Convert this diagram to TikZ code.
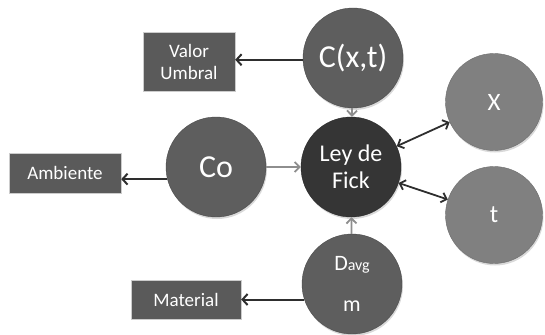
\documentclass[tikz,border=0pt]{standalone}
\usepackage{fontspec}
\setmainfont{Carlito}
\usetikzlibrary{arrows.meta,shadows}
\definecolor{midgray}{HTML}{5E5E5E}
\definecolor{darkgray}{HTML}{353535}
\definecolor{lightgray}{HTML}{808080}
\definecolor{boxgray}{HTML}{5A5A5A}
\definecolor{linkgray}{HTML}{8E8E8E}
\definecolor{linkdark}{HTML}{2E2E2E}

\begin{document}
\begin{tikzpicture}[x=1pt,y=-1pt,
    var/.style={circle,fill=midgray,draw=midgray!80!black,text=white,minimum size=100pt,inner sep=0pt,
        font=\fontsize{32}{35}\selectfont,
        drop shadow={shadow xshift=1pt,shadow yshift=-2pt,opacity=0.3}},
    box/.style={rectangle,fill=boxgray,draw=black!20,text=white,inner sep=0pt,align=center,
        font=\fontsize{19}{22}\selectfont},
    feedlink/.style={line width=1.8pt,linkgray,-{Straight Barb[length=5pt,width=10pt]}},
    outlink/.style={line width=2pt,linkdark,-{Straight Barb[length=5pt,width=11pt]}},
    bothlink/.style={line width=1.8pt,linkdark,{Straight Barb[length=5pt,width=10pt]}-{Straight Barb[length=5pt,width=10pt]}}]
    \useasboundingbox (0,0) rectangle (545,334);
    % circles
    \node[var] (cxt) at (353,58) {C(x,t)};
    \node[var,fill=darkgray,draw=darkgray!80!black,align=center,font=\fontsize{24}{27}\selectfont] (fick) at (351,167) {Ley de\\Fick};
    \node[var] (co) at (216,167) {Co};
    \node[var,align=center,font=\fontsize{22}{24}\selectfont] (davg) at (352,284) {D{\fontsize{16}{17}\selectfont avg}\\[17pt]m};
    \node[var,fill=lightgray,draw=lightgray!85!black,minimum size=97pt,font=\fontsize{25}{27}\selectfont] (x) at (494,102) {X};
    \node[var,fill=lightgray,draw=lightgray!85!black,minimum size=97pt,font=\fontsize{25}{27}\selectfont] (t) at (494,215) {t};
    % boxes
    \node[box,minimum width=92pt,minimum height=59pt] (valor) at (189,61.5) {Valor\\Umbral};
    \node[box,minimum width=112pt,minimum height=40pt] (ambiente) at (65,173) {Ambiente};
    \node[box,minimum width=110pt,minimum height=39pt] (material) at (186,299.5) {Material};
    % links
    \draw[feedlink] (cxt) -- (fick);
    \draw[feedlink] (co) -- (fick);
    \draw[feedlink] (davg) -- (fick);
    \draw[bothlink] (fick) -- (x);
    \draw[bothlink] (fick) -- (t);
    \draw[outlink] (cxt.182) -- (valor.east |- cxt.182);
    \draw[outlink] (co.194) -- (ambiente.east |- co.194);
    \draw[outlink] (davg.198) -- (material.east |- davg.198);
\end{tikzpicture}
\end{document}
